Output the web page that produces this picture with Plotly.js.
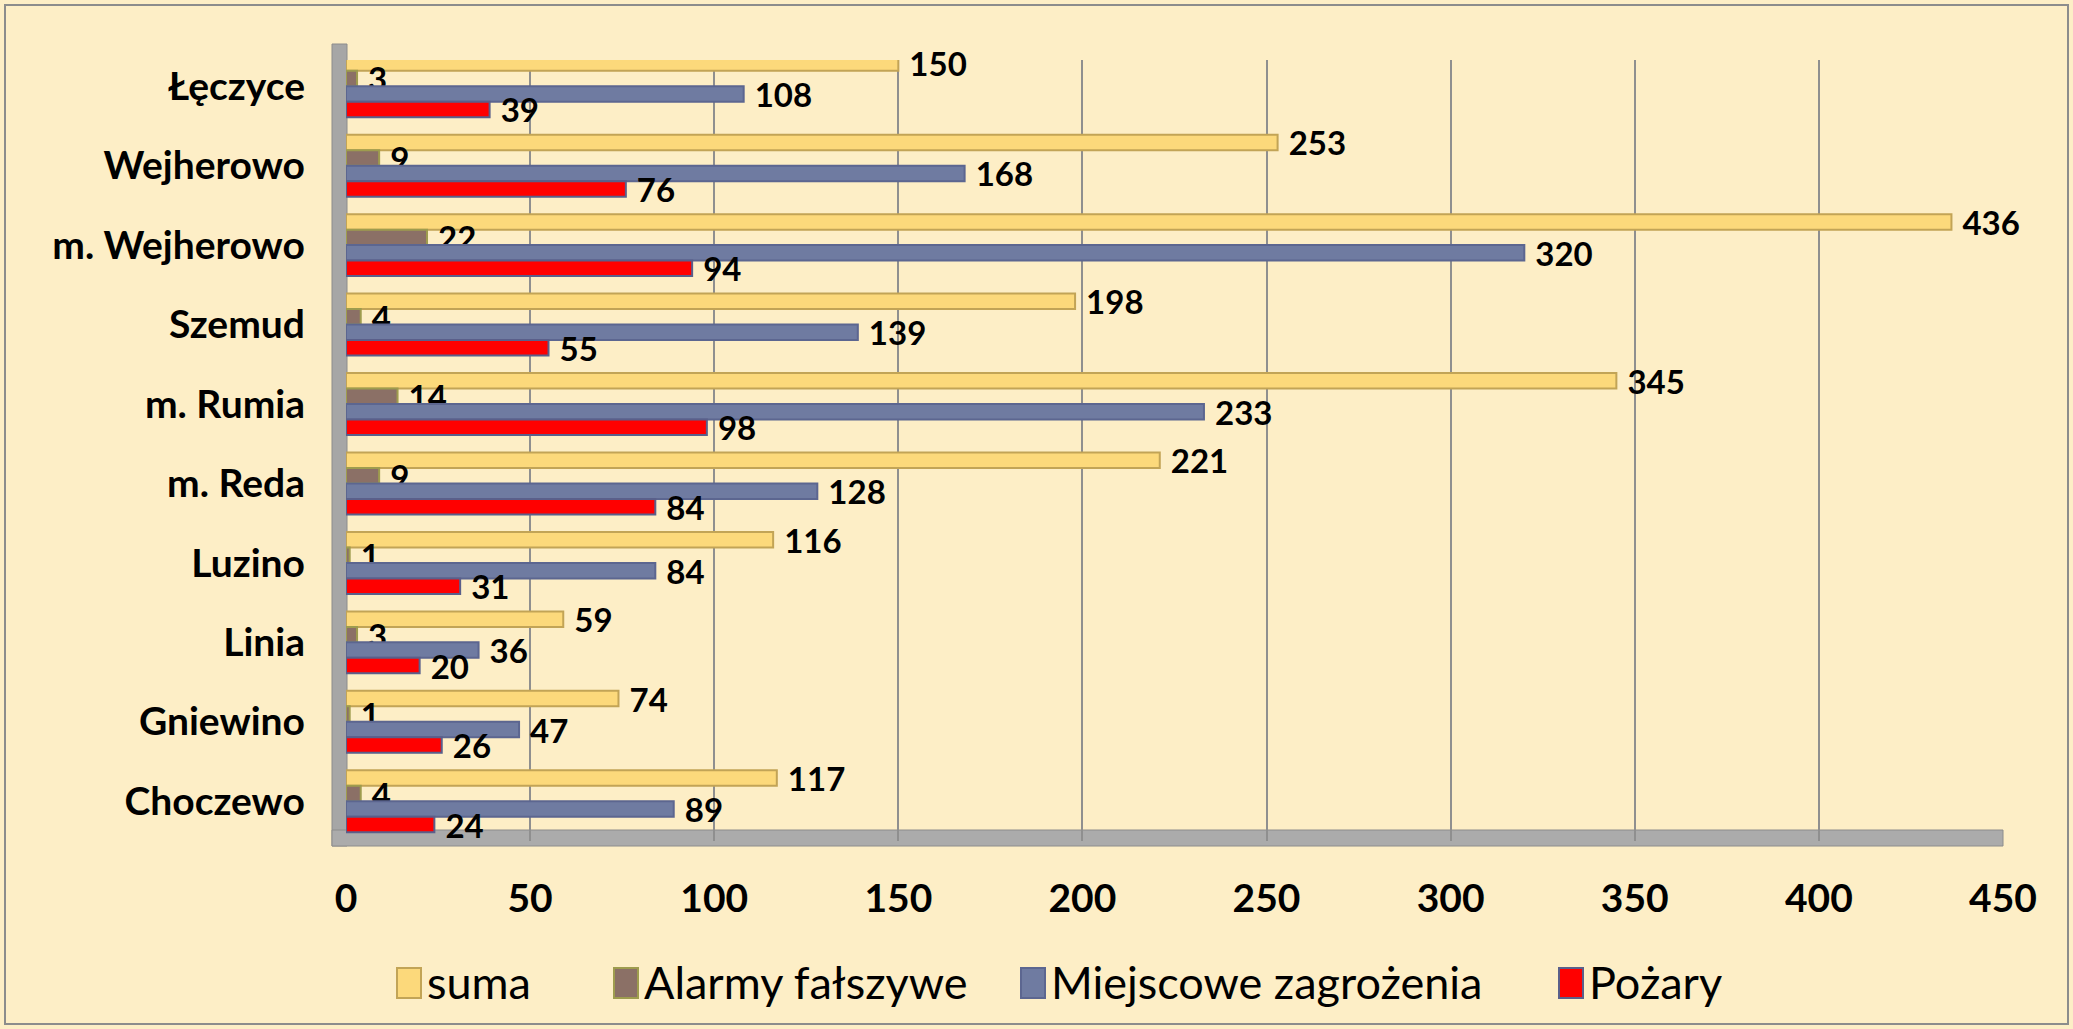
<!DOCTYPE html>
<html>
<head>
<meta charset="utf-8">
<script src="https://cdn.plot.ly/plotly-3.0.1.min.js"></script>
<style>html,body{margin:0;padding:0;background:#FDEEC6;}#chart{width:2073px;height:1029px;}</style>
</head>
<body>
<div id="chart"></div>
<script>
// Categories top-to-bottom as in the picture
const categories = ["Łęczyce", "Wejherowo", "m. Wejherowo", "Szemud", "m. Rumia", "m. Reda", "Luzino", "Linia", "Gniewino", "Choczewo"];
const suma = [150, 253, 436, 198, 345, 221, 116, 59, 74, 117];
const alarmy = [3, 9, 22, 4, 14, 9, 1, 3, 1, 4];
const miejscowe = [108, 168, 320, 139, 233, 128, 84, 36, 47, 89];
const pozary = [39, 76, 94, 55, 98, 84, 31, 20, 26, 24];
const seriesNames = ["suma", "Alarmy fałszywe", "Miejscowe zagrożenia", "Pożary"];
const xTicks = [0, 50, 100, 150, 200, 250, 300, 350, 400, 450];

const fills = ["#FCD97B", "#8B7066", "#6F7BA1", "#FF0000"];
const edges = ["#C2A456", "#9E9C4E", "#5C6690", "#5A5F8A"];
const values = [suma, alarmy, miejscowe, pozary];

const FONT = "Lato, 'Open Sans', sans-serif";

const traces = values.map((v, i) => ({
  type: "bar",
  orientation: "h",
  name: seriesNames[i],
  y: categories,
  x: v,
  text: v.map(String),
  texttemplate: "\u00a0%{text}",
  textposition: "outside",
  constraintext: "none",
  cliponaxis: false,
  textfont: {family: FONT, size: 33, color: "#000", weight: 700},
  marker: {color: fills[i], line: {color: edges[i], width: 2}},
  showlegend: false,
  hoverinfo: "x+y+name"
}));

// manual legend (large squares like the original)
const L = 346, R = 2003, T = 60, B = 841;
const px = x => (x - L) / (R - L);
const py = y => (B - y) / (B - T);
const legendSq = [397, 614, 1021, 1559];
const shapes = [];
const annotations = [];
seriesNames.forEach((n, i) => {
  shapes.push({type: "rect", xref: "paper", yref: "paper",
    x0: px(legendSq[i]), x1: px(legendSq[i] + 24), y0: py(998), y1: py(968),
    fillcolor: fills[i], line: {color: edges[i], width: 2}});
  annotations.push({xref: "paper", yref: "paper", x: px(legendSq[i] + 28), y: py(982),
    xanchor: "left", yanchor: "middle", showarrow: false, text: n,
    font: {family: FONT, size: 45, color: "#000"}});
});
// left wall and floor (3D look)
shapes.push({type: "rect", xref: "paper", yref: "paper", layer: "below",
  x0: px(332), x1: px(347), y0: py(846), y1: py(44), fillcolor: "#A6A6A6", line: {color: "#8C8C8C", width: 1}});
shapes.push({type: "rect", xref: "paper", yref: "paper", layer: "below",
  x0: px(332), x1: px(2003), y0: py(846), y1: py(830), fillcolor: "#ABABAB", line: {color: "#8C8C8C", width: 1}});
// outer border
shapes.push({type: "rect", xref: "paper", yref: "paper",
  x0: px(5), x1: px(2068), y0: py(1024), y1: py(5), line: {color: "#8C8C8C", width: 2}});

const layout = {
  width: 2073, height: 1029,
  paper_bgcolor: "#FDEEC6", plot_bgcolor: "#FDEEC6",
  margin: {l: L, r: 2073 - R, t: T, b: 1029 - B, pad: 0},
  barmode: "group", bargap: 0.22, bargroupgap: 0,
  showlegend: false,
  font: {family: FONT, color: "#000"},
  xaxis: {range: [0, 450], tickvals: xTicks, ticktext: xTicks.map(String),
    showgrid: true, gridcolor: "#8F8F8F", gridwidth: 2, zeroline: false,
    showline: false, ticks: "", ticklabelstandoff: 31,
    tickfont: {family: FONT, size: 39, color: "#000", weight: 700}},
  yaxis: {type: "category", categoryorder: "array", categoryarray: categories,
    range: [9.5, -0.33], showgrid: false, zeroline: false, showline: false,
    ticks: "", ticklabelstandoff: 40,
    tickfont: {family: FONT, size: 39, color: "#000", weight: 700}},
  shapes: shapes,
  annotations: annotations
};

Plotly.newPlot("chart", traces, layout, {displayModeBar: false, staticPlot: true});
</script>
</body>
</html>
